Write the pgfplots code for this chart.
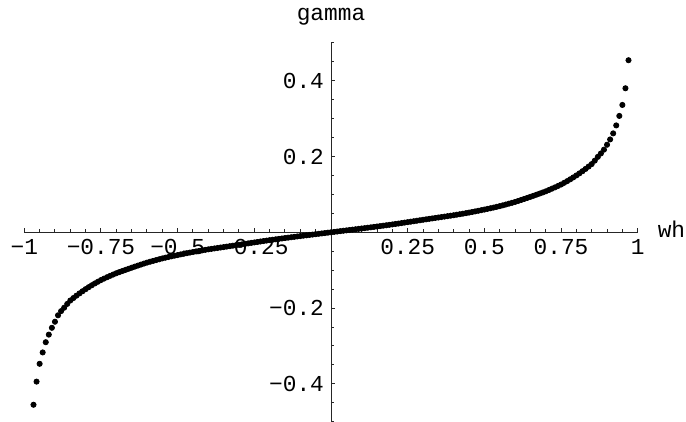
\documentclass[border=0pt]{standalone}
\usepackage{fontspec}
\setmainfont{Liberation Mono}
\usepackage{pgfplots}
\pgfplotsset{compat=1.18}
\usepackage{pgfplotstable}

% gamma against wh (right half and left half)
\pgfplotstableread{
x y
-0.97 -0.4550
-0.96 -0.3940
-0.95 -0.3470
-0.94 -0.3170
-0.93 -0.2900
-0.92 -0.2700
-0.91 -0.2520
-0.90 -0.2360
-0.89 -0.2190
-0.88 -0.2080
-0.87 -0.1990
-0.86 -0.1890
-0.85 -0.1800
-0.84 -0.1735
-0.83 -0.1672
-0.82 -0.1612
-0.81 -0.1555
-0.80 -0.1500
-0.79 -0.1448
-0.78 -0.1398
-0.77 -0.1350
-0.76 -0.1305
-0.75 -0.1260
-0.74 -0.1222
-0.73 -0.1185
-0.72 -0.1149
-0.71 -0.1114
-0.70 -0.1080
-0.69 -0.1050
-0.68 -0.1021
-0.67 -0.0992
-0.66 -0.0963
-0.65 -0.0935
-0.64 -0.0907
-0.63 -0.0880
-0.62 -0.0853
-0.61 -0.0826
-0.60 -0.0800
-0.59 -0.0777
-0.58 -0.0755
-0.57 -0.0733
-0.56 -0.0711
-0.55 -0.0690
-0.54 -0.0671
-0.53 -0.0652
-0.52 -0.0634
-0.51 -0.0617
-0.50 -0.0600
-0.49 -0.0583
-0.48 -0.0567
-0.47 -0.0551
-0.46 -0.0535
-0.45 -0.0520
-0.44 -0.0505
-0.43 -0.0491
-0.42 -0.0477
-0.41 -0.0464
-0.40 -0.0450
-0.39 -0.0438
-0.38 -0.0426
-0.37 -0.0414
-0.36 -0.0402
-0.35 -0.0390
-0.34 -0.0378
-0.33 -0.0366
-0.32 -0.0354
-0.31 -0.0342
-0.30 -0.0330
-0.29 -0.0317
-0.28 -0.0305
-0.27 -0.0292
-0.26 -0.0280
-0.25 -0.0268
-0.24 -0.0256
-0.23 -0.0243
-0.22 -0.0231
-0.21 -0.0219
-0.20 -0.0207
-0.19 -0.0196
-0.18 -0.0185
-0.17 -0.0174
-0.16 -0.0163
-0.15 -0.0152
-0.14 -0.0142
-0.13 -0.0131
-0.12 -0.0121
-0.11 -0.0110
-0.10 -0.0100
-0.09 -0.0090
-0.08 -0.0080
-0.07 -0.0070
-0.06 -0.0060
-0.05 -0.0050
-0.04 -0.0040
-0.03 -0.0030
-0.02 -0.0020
-0.01 -0.0010
0.00 0.0000
0.01 0.0010
0.02 0.0020
0.03 0.0030
0.04 0.0040
0.05 0.0050
0.06 0.0060
0.07 0.0070
0.08 0.0080
0.09 0.0090
0.10 0.0100
0.11 0.0110
0.12 0.0121
0.13 0.0131
0.14 0.0142
0.15 0.0152
0.16 0.0163
0.17 0.0174
0.18 0.0185
0.19 0.0196
0.20 0.0207
0.21 0.0219
0.22 0.0231
0.23 0.0243
0.24 0.0256
0.25 0.0268
0.26 0.0280
0.27 0.0292
0.28 0.0305
0.29 0.0317
0.30 0.0330
0.31 0.0342
0.32 0.0354
0.33 0.0366
0.34 0.0378
0.35 0.0390
0.36 0.0402
0.37 0.0414
0.38 0.0426
0.39 0.0438
0.40 0.0450
0.41 0.0464
0.42 0.0477
0.43 0.0491
0.44 0.0505
0.45 0.0520
0.46 0.0535
0.47 0.0551
0.48 0.0567
0.49 0.0583
0.50 0.0600
0.51 0.0617
0.52 0.0634
0.53 0.0652
0.54 0.0671
0.55 0.0690
0.56 0.0711
0.57 0.0733
0.58 0.0755
0.59 0.0777
0.60 0.0800
0.61 0.0826
0.62 0.0853
0.63 0.0880
0.64 0.0907
0.65 0.0935
0.66 0.0963
0.67 0.0992
0.68 0.1021
0.69 0.1050
0.70 0.1080
0.71 0.1114
0.72 0.1149
0.73 0.1185
0.74 0.1222
0.75 0.1260
0.76 0.1305
0.77 0.1350
0.78 0.1398
0.79 0.1448
0.80 0.1500
0.81 0.1555
0.82 0.1612
0.83 0.1672
0.84 0.1735
0.85 0.1800
0.86 0.1890
0.87 0.1990
0.88 0.2080
0.89 0.2180
0.90 0.2310
0.91 0.2450
0.92 0.2610
0.93 0.2820
0.94 0.3070
0.95 0.3360
0.96 0.3800
0.97 0.4540
}\gammadata

\begin{document}
\begin{tikzpicture}
\begin{axis}[
    scale only axis,
    width=306.7pt, height=189.5pt,
    xmin=-1, xmax=1, ymin=-0.5, ymax=0.5,
    enlargelimits=false,
    axis lines=middle,
    axis line style={-, line width=0.5pt, black!85},
    tick style={line width=0.5pt, black!85},
    tick align=inside,
    major tick length=2pt,
    minor tick length=1.4pt,
    xtick={-1,-0.75,-0.5,-0.25,0.25,0.5,0.75,1},
    xticklabels={−1,−0.75,−0.5,−0.25,0.25,0.5,0.75,1},
    minor xtick={-1,-0.95,...,1},
    ytick={-0.4,-0.2,0.2,0.4},
    yticklabels={−0.4,−0.2,0.2,0.4},
    minor ytick={-0.5,-0.45,...,0.5},
    ticklabel style={font=\fontsize{11.4}{13}\selectfont},
    xlabel={wh},
    ylabel={gamma},
    label style={font=\fontsize{11.4}{13}\selectfont},
    xlabel style={at={(axis description cs:1,0.5)}, anchor=base west, xshift=6.5pt, yshift=-2.7pt},
    ylabel style={at={(axis description cs:0.5,1)}, anchor=base, yshift=11pt},
    clip=false,
]
\addplot [only marks, mark=*, mark size=1.3pt, black] table [x=x, y=y] {\gammadata};
\coordinate (bl) at (axis cs:-1.0792,-0.5005);
\coordinate (tr) at (axis cs:1.1575,0.6129);
\end{axis}
\pgfresetboundingbox
\path[use as bounding box] (bl) rectangle (tr);
\end{tikzpicture}
\end{document}
